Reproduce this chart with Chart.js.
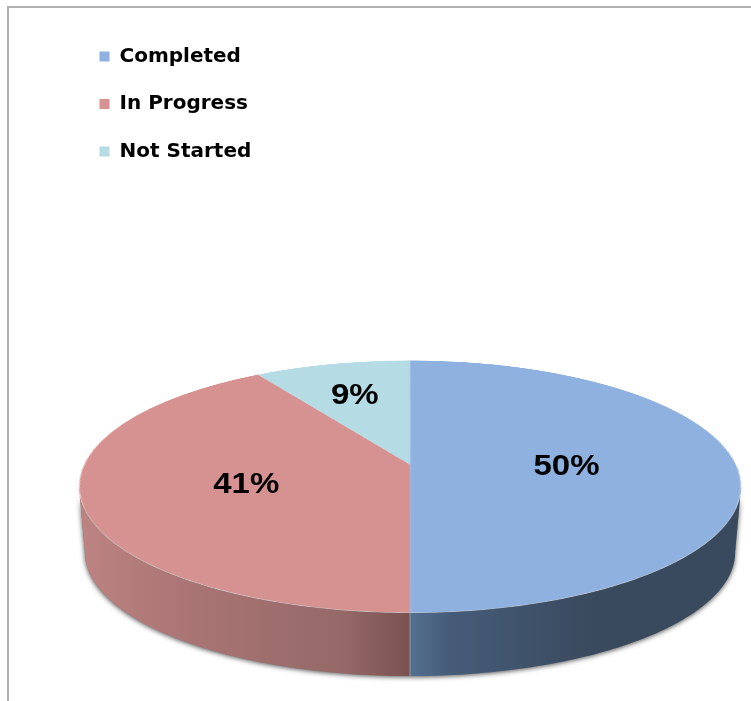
<!DOCTYPE html>
<html>
<head>
<meta charset="utf-8">
<title>Status</title>
<script src="https://cdn.jsdelivr.net/npm/chart.js"></script>
<style>
html,body{margin:0;background:#fff;overflow:hidden}
#frame{position:absolute;left:7px;top:6px;right:0;bottom:0;border-left:2px solid #b0b0b0;border-top:2px solid #b0b0b0}
canvas{position:absolute;left:0;top:0}
</style>
</head>
<body>
<div id="frame"></div>
<canvas id="pie" width="751" height="701"></canvas>
<script>
const categories=['Completed','In Progress','Not Started'];
const percents=[50,41,9];
const topColors=['#8EB1DF','#D69291','#B5DBE5'];
// side wall shading, left to right
const wallStops=[
    [[0,'#54708F'],[0.12,'#455C79'],[0.55,'#3A4A5E'],[1,'#3A4A5E']],
    [[0,'#BC8382'],[0.35,'#A87473'],[0.8,'#946968'],[1,'#7A5250']],
    [[0,'#8AA6AE'],[1,'#8AA6AE']]
];
const labelRadius=[0.48,0.51,0.675];

// tilted disc: where a point of the unit circle lands on the page
const view={cx:410,cy:465,a:122.2,b:326,k:-0.1746,depth:65.7,shrink:0.982};
const frontFrom=Math.asin(-view.k),frontTo=Math.PI-frontFrom;
function project(u,v,low){
    const s=1/(1+view.k*v);
    const f=low?view.shrink:1;
    return {x:view.cx+view.b*f*u*s,y:view.cy+(low?view.depth:0)+view.a*f*v*s};
}
// strip between top rim and bottom rim, only the part facing us
function wallPath(ctx,from,to){
    const steps=90;
    ctx.beginPath();
    for(let i=0;i<=steps;i++){
        const a=from+(to-from)*i/steps;
        const p=project(Math.cos(a),Math.sin(a),false);
        ctx.lineTo(p.x,p.y);
    }
    for(let i=steps;i>=0;i--){
        const a=from+(to-from)*i/steps;
        const p=project(Math.cos(a),Math.sin(a),true);
        ctx.lineTo(p.x,p.y);
    }
    ctx.closePath();
}

const tiltPie={
    id:'tiltPie',
    afterDatasetsDraw(chart){
        const ctx=chart.ctx;
        const arcs=chart.getDatasetMeta(0).data;
        const p0=arcs[0];
        const R=p0.outerRadius;

        // lift the flat pie the library drew, then put it back tilted
        const off=document.createElement('canvas');
        off.width=chart.canvas.width;
        off.height=chart.canvas.height;
        off.getContext('2d').drawImage(chart.canvas,0,0);
        ctx.save();
        ctx.clearRect(p0.x-R-2,p0.y-R-2,2*R+4,2*R+4);

        // wall
        ctx.save();
        ctx.shadowColor='rgba(50,50,50,0.85)';
        ctx.shadowBlur=5;
        ctx.shadowOffsetY=1;
        ctx.fillStyle='#888';
        wallPath(ctx,frontFrom,frontTo);
        ctx.fill();
        ctx.restore();
        arcs.forEach((arc,n)=>{
            const from=Math.max(arc.startAngle,frontFrom);
            const to=Math.min(arc.endAngle,frontTo);
            if(to<=from)return;
            const grad=ctx.createLinearGradient(n==0?view.cx:80,0,n==0?742:view.cx,0);
            wallStops[n].forEach(s=>grad.addColorStop(s[0],s[1]));
            ctx.fillStyle=grad;
            wallPath(ctx,from,to);
            ctx.fill();
        });
        // seam on the wall
        const sa=project(0,1,false),sb=project(0,1,true);
        ctx.strokeStyle='rgba(190,170,170,0.6)';
        ctx.lineWidth=1;
        ctx.beginPath();
        ctx.moveTo(sa.x,sa.y);
        ctx.lineTo(sb.x,sb.y);
        ctx.stroke();

        // top face, row by row
        ctx.imageSmoothingEnabled=true;
        const top=Math.floor(project(0,-1,false).y)-1;
        const bot=Math.ceil(project(0,1,false).y)+1;
        for(let y=top;y<bot;y++){
            const dy=y+0.5-view.cy;
            const v=dy/(view.a-view.k*dy);
            if(Math.abs(v)>1.01)continue;
            const s=1/(1+view.k*v);
            const w=view.b*s;
            const v2=(dy+1)/(view.a-view.k*(dy+1));
            ctx.drawImage(off,p0.x-R-1,p0.y+R*v,2*R+2,Math.max(R*(v2-v),0.5),view.cx-w*(R+1)/R,y,2*w*(R+1)/R,1);
        }

        // percent labels
        ctx.fillStyle='#000';
        ctx.font='bold 30px "Liberation Sans"';
        ctx.textAlign='center';
        ctx.textBaseline='middle';
        arcs.forEach((arc,n)=>{
            const mid=(arc.startAngle+arc.endAngle)/2;
            const p=project(Math.cos(mid)*labelRadius[n],Math.sin(mid)*labelRadius[n],false);
            ctx.save();
            ctx.translate(p.x,p.y+2);
            ctx.scale(1.1,1);
            ctx.fillText(percents[n]+'%',0,0);
            ctx.restore();
        });
        ctx.restore();
    }
};

new Chart(document.getElementById('pie'),{
    type:'pie',
    data:{labels:categories,datasets:[{data:percents,backgroundColor:topColors,borderWidth:0}]},
    options:{
        responsive:false,
        animation:false,
        events:[],
        layout:{padding:{left:72,top:19,right:0,bottom:0}},
        plugins:{
            tooltip:{enabled:false},
            legend:{
                position:'left',
                align:'start',
                labels:{
                    color:'#000',
                    boxWidth:10,
                    boxHeight:10,
                    padding:27.5,
                    font:{family:'"DejaVu Sans"',weight:'bold',size:20}
                }
            }
        }
    },
    plugins:[tiltPie]
});
</script>
</body>
</html>
